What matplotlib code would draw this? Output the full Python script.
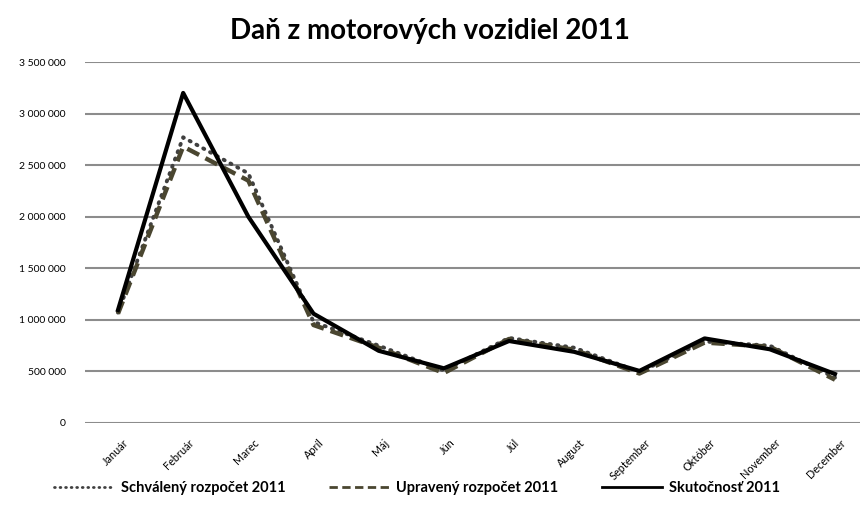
import matplotlib
matplotlib.use("Agg")
import matplotlib.pyplot as plt
from matplotlib.ticker import FuncFormatter
from matplotlib.transforms import ScaledTranslation

plt.rcParams['font.family'] = ['Lato', 'DejaVu Sans']

months = ["Január", "Február", "Marec", "Apríl", "Máj", "Jún", "Júl",
          "August", "September", "Október", "November", "December"]

schvaleny = [1070000, 2770000, 2420000, 980000, 750000, 510000,
             825000, 730000, 495000, 790000, 750000, 440000]
upraveny = [1060000, 2680000, 2350000, 950000, 730000, 485000,
            815000, 710000, 480000, 780000, 740000, 420000]
skutocnost = [1095000, 3200000, 2000000, 1060000, 700000, 530000,
              795000, 690000, 505000, 820000, 715000, 475000]

labels = ["Schválený rozpočet 2011", "Upravený rozpočet 2011", "Skutočnosť 2011"]

fig = plt.figure(figsize=(8.6, 5.2), dpi=100)
ax = fig.add_axes([85/860, 97/520, 775/860, 361/520])

x = list(range(len(months)))
ax.plot(x, schvaleny, color="#404040", lw=2.8, linestyle=(0, (0.3, 1.7)),
        dash_capstyle="round", label=labels[0], zorder=3)
ax.plot(x, upraveny, color="#4a4630", lw=3.2, linestyle=(0, (3, 1.6)),
        label=labels[1], zorder=3)
ax.plot(x, skutocnost, color="black", lw=3.0, label=labels[2], zorder=4)

ax.set_ylim(0, 3500000)
ax.set_xlim(-0.506, 11.384)
ax.set_yticks(range(0, 3500001, 500000))
ax.yaxis.set_major_formatter(FuncFormatter(lambda v, p: f"{int(v):,}".replace(",", " ")))
ax.grid(axis="y", color="#8c8c8c", lw=1.5)
ax.set_axisbelow(True)
for s in ax.spines.values():
    s.set_visible(False)
ax.tick_params(length=0, labelsize=7.5, pad=14)
ax.tick_params(axis="x", pad=10)
ax.set_xticks(x)
ax.set_xticklabels(months, rotation=45, ha="right", va="top",
                   rotation_mode="anchor", fontsize=7.8)
shift = ScaledTranslation(5/100, 0, fig.dpi_scale_trans)
for t in ax.get_xticklabels():
    t.set_transform(t.get_transform() + shift)

fig.text(0.5, 0.94, "Daň z motorových vozidiel 2011", ha="center", va="center",
         fontsize=20, fontweight="bold")

leg = fig.legend(loc="center", bbox_to_anchor=(417/860, 1 - 488/520), ncol=3,
                 frameon=False, handlelength=4.1, columnspacing=3.0,
                 handletextpad=0.5,
                 prop={"weight": "bold", "size": 10.5})
for h in leg.get_lines():
    h.set_linewidth(2)

fig.savefig("out.png", dpi=100)
